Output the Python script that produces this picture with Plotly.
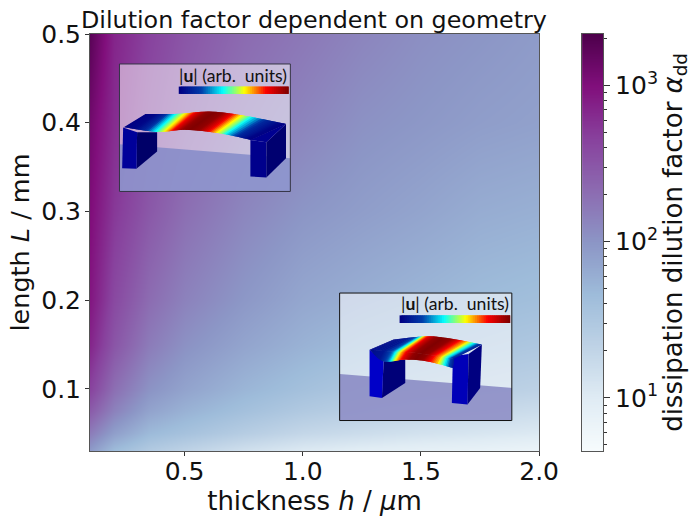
import numpy as np
import plotly.graph_objects as go
from plotly.colors import sample_colorscale

# ---- data ----
thickness_um = [0.1, 0.2, 0.35, 0.5, 0.75, 1.0, 1.25, 1.5, 1.75, 2.0]
length_mm = [0.03, 0.05, 0.075, 0.1, 0.15, 0.2, 0.3, 0.4, 0.5]
log10_alpha = [
    [1.95, 1.65, 1.45, 1.33, 1.15, 1.02, 0.95, 0.90, 0.87, 0.82],
    [2.20, 1.92, 1.68, 1.58, 1.42, 1.28, 1.20, 1.13, 1.08, 1.03],
    [2.45, 2.15, 1.88, 1.75, 1.60, 1.47, 1.38, 1.30, 1.25, 1.20],
    [2.65, 2.30, 2.02, 1.88, 1.72, 1.60, 1.50, 1.45, 1.40, 1.35],
    [2.85, 2.50, 2.20, 2.03, 1.87, 1.75, 1.66, 1.60, 1.55, 1.50],
    [2.95, 2.60, 2.32, 2.15, 1.98, 1.85, 1.78, 1.72, 1.66, 1.62],
    [3.02, 2.72, 2.48, 2.30, 2.12, 2.00, 1.93, 1.87, 1.80, 1.77],
    [3.10, 2.80, 2.58, 2.42, 2.24, 2.13, 2.03, 1.98, 1.93, 1.90],
    [3.25, 2.85, 2.65, 2.50, 2.33, 2.23, 2.13, 2.05, 2.00, 1.95],
]
major_ticks = [10, 100, 1000]
major_labels = ["10<sup>1</sup>", "10<sup>2</sup>", "10<sup>3</sup>"]
minor_ticks = [5, 6, 7, 8, 9, 20, 30, 40, 50, 60, 70, 80, 90, 200, 300, 400, 500, 600, 700, 800, 900, 2000]
x_ticks = [0.5, 1.0, 1.5, 2.0]
y_ticks = [0.1, 0.2, 0.3, 0.4, 0.5]

W, H = 695, 525
L, R, T, B = 89.5, 539, 34, 451.5
PW = W - L
LOG_MIN, LOG_MAX = 0.66, 3.33
BUPU = ["#f7fcfd", "#e0ecf4", "#bfd3e6", "#9ebcda", "#8c96c6", "#8c6bb1", "#88419d", "#810f7c", "#4d004b"]

fig = go.Figure()
fig.add_trace(go.Heatmap(
    x=thickness_um, y=length_mm, z=log10_alpha, zsmooth="best",
    colorscale=BUPU, zmin=LOG_MIN, zmax=LOG_MAX, hoverinfo="skip", showscale=False,
))
bar_levels = np.linspace(LOG_MIN, LOG_MAX, 256)
fig.add_trace(go.Heatmap(
    x=[0], y=10 ** bar_levels, z=[[float(v)] for v in bar_levels], xaxis="x2", yaxis="y2",
    colorscale=BUPU, zmin=LOG_MIN, zmax=LOG_MAX, hoverinfo="skip", showscale=False,
))

# ---- helpers for the two inset illustrations ----
def to_dom(ox, oy, pts):
    return [((ox + a / 3 - L) / (R - L), (B - (oy + b / 3)) / (B - T)) for a, b in pts]

def poly(ox, oy, pts, fill):
    p = to_dom(ox, oy, pts)
    d = "M " + " L ".join(f"{a:.4f} {b:.4f}" for a, b in p) + " Z"
    return dict(type="path", path=d, xref="x domain", yref="y domain", fillcolor=fill,
                line=dict(width=0), layer="above")

def jet(u):
    return sample_colorscale("Jet", [float(np.clip(u, 0, 1))])[0]

def smooth_curve(points, ts):
    pts = np.array(points, float)
    p = np.vstack([pts[0], pts, pts[-1]])
    n = len(pts) - 1
    out = []
    for t in ts:
        s = min(t * n, n - 1e-9)
        i = int(s)
        f = s - i
        a, b, c, d = p[i], p[i + 1], p[i + 2], p[i + 3]
        out.append(0.5 * (2 * b + (c - a) * f + (2 * a - 5 * b + 4 * c - d) * f ** 2 + (3 * b - a - 3 * c + d) * f ** 3))
    return np.array(out)

def span(ox, oy, front, back, t_knots, u_knots, n=70):
    out = []
    ts = np.linspace(0, 1, n + 1)
    f = smooth_curve(front, ts)
    b = smooth_curve(back, ts)
    for i in range(n):
        j = min(i + 2, n)
        u = np.interp((ts[i] + ts[i + 1]) / 2, t_knots, u_knots)
        out.append(poly(ox, oy, [tuple(f[i]), tuple(f[j]), tuple(b[j]), tuple(b[i])], jet(u)))
    return out

def legend_bar(ox, oy, x0, x1, y0, y1, n=60):
    xs = np.linspace(x0, x1, n + 1)
    return [poly(ox, oy, [(xs[i], y0), (xs[min(i + 2, n)], y0), (xs[min(i + 2, n)], y1), (xs[i], y1)], jet(i / (n - 1)))
            for i in range(n)]

shapes = []
annotations = []

# inset 1 (upper left)
o1 = (110, 55)
shapes.append(poly(*o1, [(27, 27), (540, 27), (540, 410), (27, 410)], "rgba(255,255,255,0.52)"))
shapes.append(poly(*o1, [(27, 268), (140, 277), (540, 310), (540, 410), (27, 410)], "rgba(125,135,198,0.78)"))
shapes.append(poly(*o1, [(80, 232), (140, 232), (140, 290), (78, 342)], "#000068"))
shapes.append(poly(*o1, [(38, 218), (80, 232), (78, 342), (35, 340)], "#00009a"))
shapes.append(poly(*o1, [(420, 255), (468, 262), (468, 368), (420, 365)], "#00008c"))
shapes.append(poly(*o1, [(468, 262), (527, 207), (527, 310), (468, 368)], "#000070"))
shapes.append(poly(*o1, [(420, 255), (468, 262), (527, 207)], "#000090"))
shapes += span(*o1,
               [(40, 217), (140, 231), (225, 225), (325, 235), (422, 255)],
               [(105, 177), (200, 177), (300, 170), (400, 182), (527, 207)],
               [0, .1, .16, .22, .27, .33, .4, .47, .53, .6, .66, .72, .77, .81, .88, .95, 1],
               [0, .02, .12, .35, .5, .65, .85, .97, 1, .97, .85, .65, .5, .35, .12, .02, 0])
shapes += legend_bar(*o1, 205, 535, 95, 117)
shapes.append(poly(*o1, [(27, 27), (540, 27), (540, 410), (27, 410)], "rgba(0,0,0,0)"))
shapes[-1]["line"] = dict(color="#333344", width=1)

# inset 2 (lower right)
o2 = (330, 285)
shapes.append(poly(*o2, [(28, 25), (545, 25), (545, 408), (28, 408)], "rgba(255,255,255,0.55)"))
shapes.append(poly(*o2, [(28, 268), (545, 310), (545, 408), (28, 408)], "rgba(125,125,190,0.78)"))
shapes.append(poly(*o2, [(160, 230), (225, 225), (225, 295), (155, 340)], "#000078"))
shapes.append(poly(*o2, [(118, 195), (160, 230), (155, 340), (118, 335)], "#0000c8"))
shapes.append(poly(*o2, [(368, 215), (415, 208), (412, 360), (365, 355)], "#0000b8"))
shapes.append(poly(*o2, [(415, 208), (455, 180), (450, 310), (412, 360)], "#000080"))
t2 = [0, .2, .3, .35, .4, .47, .55, .62, .7, .76, .84, .9, .95, 1]
u2 = [.03, .08, .25, .45, .65, .85, .97, 1, .97, .85, .65, .4, .2, .08]
ridge2 = [(118, 195), (175, 200), (240, 203), (305, 212), (372, 222)]
shapes += span(*o2, [(118, 195), (160, 230), (225, 225), (290, 230), (368, 250)], ridge2, t2, u2)
shapes += span(*o2, ridge2, [(190, 165), (250, 158), (305, 155), (380, 165), (455, 180)], t2, u2)
shapes += legend_bar(*o2, 208, 540, 92, 115)
shapes.append(poly(*o2, [(28, 25), (545, 25), (545, 408), (28, 408)], "rgba(0,0,0,0)"))
shapes[-1]["line"] = dict(color="#111111", width=1)

for px, py in [(288.5, 76), (510.5, 304)]:
    annotations.append(dict(text="|<b>u</b>| (arb.\u00a0 units)", xref="x domain", yref="y domain",
                            x=(px - L) / (R - L), y=(B - py) / (B - T), xanchor="right", yanchor="middle",
                            showarrow=False, font=dict(family="Lato", size=17.6, color="#111111")))

axis_common = dict(showgrid=False, zeroline=False, ticks="outside", ticklen=4, tickwidth=1, automargin=False,
                   tickcolor="#333333", showline=True, linecolor="#555555", linewidth=1, mirror=True,
                   tickfont=dict(size=25, color="#111111"))

fig.update_layout(
    width=W, height=H,
    margin=dict(l=L, r=0, t=T, b=H - B),
    plot_bgcolor="white", paper_bgcolor="white",
    font=dict(family="DejaVu Sans", color="#111111"),
    title=dict(text="Dilution factor dependent on geometry", font=dict(size=23.8, color="#111111"),
               x=(314) / W, xanchor="center", y=1 - 20 / H, yanchor="middle"),
    xaxis=dict(domain=[0, (R - L) / PW], range=[0.1, 2.0], tickvals=x_ticks, ticktext=["0.5", "1.0", "1.5", "2.0"],
               ticklabelstandoff=-6,
               title=dict(text="thickness <i>h</i> / <i>μ</i>m", font=dict(size=26, color="#111111"), standoff=2),
               **axis_common),
    yaxis=dict(range=[0.03, 0.5], tickvals=y_ticks, ticktext=["0.1", "0.2", "0.3", "0.4", "0.5"],
               ticklabelstandoff=-1,
               title=dict(text="length <i>L</i> / mm", font=dict(size=25.5, color="#111111"), standoff=4),
               **axis_common),
    xaxis2=dict(domain=[(582 - L) / PW, (603 - L) / PW], range=[-0.5, 0.5], anchor="y2", showticklabels=False,
                ticks="", showgrid=False, zeroline=False, showline=True, linecolor="#555555", linewidth=1, mirror=True,
                automargin=False),
    yaxis2=dict(type="log", domain=[0, 1], anchor="x2", side="right", range=[LOG_MIN, LOG_MAX], automargin=False,
                tickmode="array", tickvals=major_ticks, ticktext=major_labels,
                ticks="outside", ticklen=6, tickwidth=1, tickcolor="#333333",
                tickfont=dict(size=25, color="#111111"),
                minor=dict(tickmode="array", tickvals=minor_ticks, ticks="outside", ticklen=3, tickwidth=1,
                           tickcolor="#333333", showgrid=False),
                showgrid=False, zeroline=False, showline=True, linecolor="#555555", linewidth=1, mirror=True,
                title=dict(text="dissipation dilution factor <i>α</i><sub>dd</sub>", font=dict(size=26, color="#111111"), standoff=4)),
    shapes=shapes, annotations=annotations,
)

fig.write_html("out.html", post_script="document.body.style.margin='0';", config=dict(displayModeBar=False))
